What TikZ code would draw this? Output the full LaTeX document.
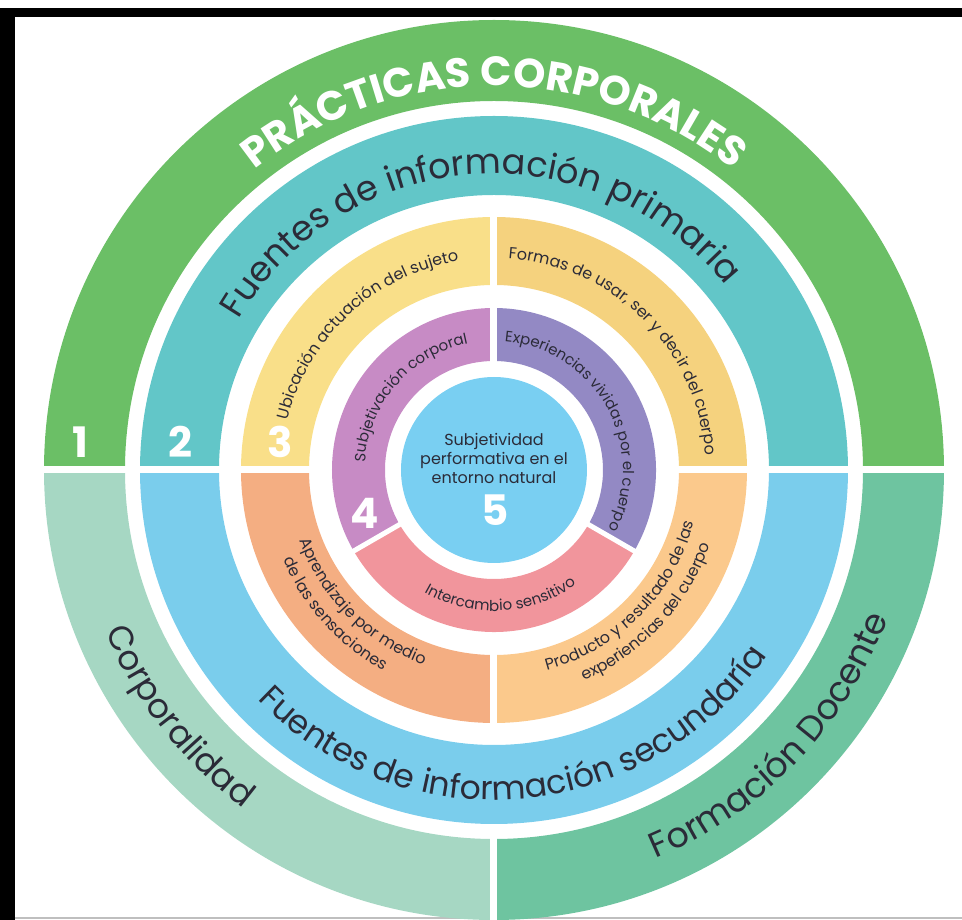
\documentclass[tikz,border=0pt]{standalone}
\usepackage{fontspec}
\setmainfont{Poppins}
\usetikzlibrary{decorations.text}

\definecolor{ringgreen}{HTML}{6BBF66}
\definecolor{corpgreen}{HTML}{A6D7C3}
\definecolor{docgreen}{HTML}{6EC4A0}
\definecolor{primteal}{HTML}{62C6C8}
\definecolor{secblue}{HTML}{7ACDEC}
\definecolor{ubiyellow}{HTML}{F9DF89}
\definecolor{formyellow}{HTML}{F5D27E}
\definecolor{aprorange}{HTML}{F4AE82}
\definecolor{prodorange}{HTML}{FBC98C}
\definecolor{subjpurple}{HTML}{C78BC5}
\definecolor{expviolet}{HTML}{9389C4}
\definecolor{interpink}{HTML}{F1959C}
\definecolor{coreblue}{HTML}{79CFF2}
\definecolor{labelgray}{HTML}{2B2B38}

% annular sector: colour, from, to, inner radius, outer radius
\newcommand{\ringpart}[5]{%
  \fill[#1] (#2:#5) arc[start angle=#2, end angle=#3, radius=#5]
    -- (#3:#4) arc[start angle=#3, end angle=#2, radius=#4] -- cycle;}

\begin{document}
\begin{tikzpicture}[x=1pt, y=1pt,
    divider/.style={draw=white, line width=7pt},
    number/.style={text=white, font=\fontsize{42}{42}\selectfont\bfseries}]
  \useasboundingbox (-494,-450) rectangle (468,470);

  % Frame
  \fill[black] (-494,462) rectangle (468,453);
  \fill[black] (-494,462) rectangle (-479,-450);
  \draw[gray!50, line width=2pt] (-479,-448) -- (468,-448);

  % Ring 1
  \ringpart{ringgreen}{0}{180}{369}{450}
  \ringpart{corpgreen}{180}{270}{369}{450}
  \ringpart{docgreen}{270}{360}{369}{450}
  % Ring 2
  \ringpart{primteal}{0}{180}{275}{354}
  \ringpart{secblue}{180}{360}{275}{354}
  % Ring 3
  \ringpart{formyellow}{0}{90}{185}{253}
  \ringpart{ubiyellow}{90}{180}{185}{253}
  \ringpart{aprorange}{180}{270}{185}{253}
  \ringpart{prodorange}{270}{360}{185}{253}
  % Ring 4
  \ringpart{expviolet}{-30}{90}{109}{162}
  \ringpart{subjpurple}{90}{210}{109}{162}
  \ringpart{interpink}{210}{330}{109}{162}
  % Core
  \fill[coreblue] (0,0) circle[radius=93];

  % Dividers
  \draw[divider] (180:182) -- (180:456);
  \draw[divider] (0:182) -- (0:456);
  \draw[divider] (90:105) -- (90:258);
  \draw[divider] (270:182) -- (270:258);
  \draw[divider] (270:365) -- (270:456);
  \draw[divider, line width=5pt] (210:105) -- (210:166);
  \draw[divider, line width=5pt] (330:105) -- (330:166);

  % Ring 1 labels
  \path[decorate, decoration={text along path, text align=center, text color=white,
    text={|\fontsize{41}{41}\selectfont\bfseries|PRÁCTICAS CORPORALES}}]
    (175:384) arc[start angle=175, end angle=5, radius=384];
  \path[decorate, decoration={text along path, text align=center, text color=labelgray,
    text={|\fontsize{34}{34}\selectfont|Corporalidad}}]
    (178:421) arc[start angle=178, end angle=258, radius=421];
  \path[decorate, decoration={text along path, text align=center, text color=labelgray,
    text={|\fontsize{35}{35}\selectfont|Formación Docente}}]
    (276:421) arc[start angle=276, end angle=356, radius=421];

  % Ring 2 labels
  \path[decorate, decoration={text along path, text align=center, text color=labelgray,
    text={|\fontsize{35}{35}\selectfont|Fuentes de información primaria}}]
    (184:296) arc[start angle=184, end angle=4, radius=296];
  \path[decorate, decoration={text along path, text align=center, text color=labelgray,
    text={|\fontsize{33}{33}\selectfont|Fuentes de información secundaría}}]
    (185:330) arc[start angle=185, end angle=365, radius=330];

  % Ring 3 labels
  \path[decorate, decoration={text along path, text align=center, text color=labelgray,
    text={|\fontsize{16}{16}\selectfont|Ubicación actuación del sujeto}}]
    (193:212) arc[start angle=193, end angle=73, radius=212];
  \path[decorate, decoration={text along path, text align=center, text color=labelgray,
    text={|\fontsize{16}{16}\selectfont|Formas de usar, ser y decir del cuerpo}}]
    (105:212) arc[start angle=105, end angle=-15, radius=212];
  \path[decorate, decoration={text along path, text align=center, text color=labelgray,
    text={|\fontsize{16}{16}\selectfont|Aprendizaje por medio}}]
    (165:207) arc[start angle=165, end angle=285, radius=207];
  \path[decorate, decoration={text along path, text align=center, text color=labelgray,
    text={|\fontsize{16}{16}\selectfont|de las sensaciones}}]
    (162:229) arc[start angle=162, end angle=282, radius=229];
  \path[decorate, decoration={text along path, text align=center, text color=labelgray,
    text={|\fontsize{16}{16}\selectfont|Producto y resultado de las}}]
    (255:207) arc[start angle=255, end angle=375, radius=207];
  \path[decorate, decoration={text along path, text align=center, text color=labelgray,
    text={|\fontsize{16}{16}\selectfont|experiencias del cuerpo}}]
    (257:229) arc[start angle=257, end angle=377, radius=229];

  % Ring 4 labels
  \path[decorate, decoration={text along path, text align=center, text color=labelgray,
    text={|\fontsize{15}{15}\selectfont|Subjetivación corporal}}]
    (199:129) arc[start angle=199, end angle=79, radius=129];
  \path[decorate, decoration={text along path, text align=center, text color=labelgray,
    text={|\fontsize{15}{15}\selectfont|Experiencias vividas por el cuerpo}}]
    (89:129) arc[start angle=89, end angle=-31, radius=129];
  \path[decorate, decoration={text along path, text align=center, text color=labelgray,
    text={|\fontsize{15}{15}\selectfont|Intercambio sensitivo}}]
    (213:141) arc[start angle=213, end angle=333, radius=141];

  % Core and numbers
  \node[align=center, text=labelgray, font=\fontsize{16}{19}\selectfont] (core) at (0,12)
    {Subjetividad\\performativa en el\\entorno natural};
  \node[number] (n1) at (-414,28) {1};
  \node[number] (n2) at (-314,28) {2};
  \node[number] (n3) at (-214,28) {3};
  \node[number] (n4) at (-129,-43) {4};
  \node[number] (n5) at (1,-40) {5};
\end{tikzpicture}
\end{document}
